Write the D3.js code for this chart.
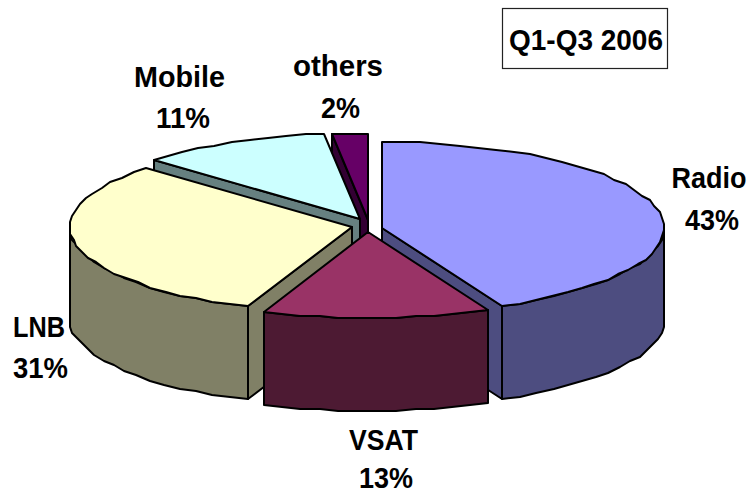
<!DOCTYPE html>
<html>
<head>
<meta charset="utf-8">
<script src="https://cdn.jsdelivr.net/npm/d3@7"></script>
<style>
  html, body { margin: 0; padding: 0; background: #fff; }
  svg { display: block; }
  text { font-family: "Liberation Sans", Arial, sans-serif; font-weight: bold; fill: #000; }
</style>
</head>
<body>
<svg id="pie" width="751" height="494"></svg>
<script>
var categories = ['Radio', 'VSAT', 'LNB', 'Mobile', 'others'];
var shares = [43, 13, 31, 11, 2];
var title = 'Q1-Q3 2006';

var topColors = ['#9999ff', '#993366', '#ffffcc', '#ccffff', '#660066'];
var sideColors = ['#4d4d80', '#4d1a33', '#808066', '#668080', '#330033'];

// where each exploded slice has its point, and where its two label lines sit
var apexes = [[382, 228], [368, 232], [352, 227], [360, 219], [368, 220]];
var labelSpots = [[709, 188], [383.5, 450], [39, 337], [179.5, 87], [338, 76]];
var labelWidths = [75, 69, 52, 91, 90];
var percentSpots = [[712, 230], [386, 488], [40.5, 378], [183, 128], [340.5, 118]];
var percentWidths = [54, 54, 55, 54, 39];

var rx = 282, ry = 86, depth = 93;
var drawOrder = [4, 3, 2, 0, 1]; // back to front

var svg = d3.select('svg#pie');

var xScale = d3.scaleLinear().domain([-1, 1]).range([-rx, rx]);
var yScale = d3.scaleLinear().domain([-1, 1]).range([ry, -ry]);

var slices = d3.pie().sort(null).value(d => d)(shares);

var line = d3.line().curve(d3.curveLinear);

// the rim in the original is a rough polygon, so snap to a coarse grid
var snap = v => Math.round(v / 2) * 2;

function rimPoint(i, angle, drop) {
  return [
    snap(apexes[i][0] + xScale(Math.sin(angle))),
    snap(apexes[i][1] + yScale(Math.cos(angle))) + drop
  ];
}

function rim(i, a0, a1, drop) {
  return d3.range(0, 1.0001, 1 / Math.max(1, Math.round((a1 - a0) / 0.07)))
    .map(t => rimPoint(i, a0 + (a1 - a0) * t, drop));
}

var parts = svg.append('g')
    .attr('stroke', '#000')
    .attr('stroke-width', 2)
    .attr('stroke-linejoin', 'round');

drawOrder.forEach(function(i) {
  var s = slices[i];
  var apex = apexes[i];
  var side = sideColors[i];

  // only the cut faces that turn towards the viewer
  [s.startAngle, s.endAngle].forEach(function(angle, end) {
    var inFront = end ? angle < Math.PI : angle > Math.PI;
    if (!inFront) return;
    var edge = rimPoint(i, angle, 0);
    parts.append('path')
      .attr('fill', side)
      .attr('d', line([apex, edge, [edge[0], edge[1] + depth], [apex[0], apex[1] + depth]]) + 'Z');
  });

  // outer wall, only the front half of the rim shows
  var a0 = Math.max(s.startAngle, Math.PI / 2);
  var a1 = Math.min(s.endAngle, Math.PI * 1.5);
  if (a1 > a0) {
    parts.append('path')
      .attr('fill', side)
      .attr('d', line(rim(i, a0, a1, 0).concat(rim(i, a0, a1, depth).reverse())) + 'Z');
  }

  // top
  parts.append('path')
    .attr('fill', topColors[i])
    .attr('d', line([apex].concat(rim(i, s.startAngle, s.endAngle, 0))) + 'Z');
});

var labels = svg.append('g')
    .attr('text-anchor', 'middle')
    .attr('font-size', 29);

labels.selectAll('.name')
  .data(categories)
  .join('text')
    .attr('class', 'name')
    .attr('x', (d, i) => labelSpots[i][0])
    .attr('y', (d, i) => labelSpots[i][1])
    .attr('textLength', (d, i) => labelWidths[i])
    .attr('lengthAdjust', 'spacingAndGlyphs')
    .text(d => d);

labels.selectAll('.share')
  .data(shares)
  .join('text')
    .attr('class', 'share')
    .attr('x', (d, i) => percentSpots[i][0])
    .attr('y', (d, i) => percentSpots[i][1])
    .attr('textLength', (d, i) => percentWidths[i])
    .attr('lengthAdjust', 'spacingAndGlyphs')
    .text(d => d + '%');

svg.append('rect')
  .attr('x', 502.5).attr('y', 8.5)
  .attr('width', 165).attr('height', 60)
  .attr('fill', '#fff')
  .attr('stroke', '#222')
  .attr('stroke-width', 1.2);

svg.append('text')
  .attr('x', 586).attr('y', 50)
  .attr('text-anchor', 'middle')
  .attr('font-size', 30)
  .attr('textLength', 154)
  .attr('lengthAdjust', 'spacingAndGlyphs')
  .text(title);
</script>
</body>
</html>
